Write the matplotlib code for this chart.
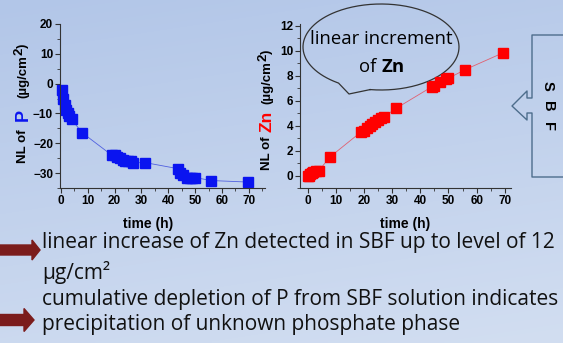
import numpy as np
import matplotlib
matplotlib.use("Agg")
import matplotlib.pyplot as plt
from matplotlib.patches import Polygon
from matplotlib.ticker import MultipleLocator

# ---- data ----
p_time = [0.5, 1.0, 1.5, 2.0, 2.5, 3.0, 4.0, 8.0, 19.0, 20.0, 21.0, 22.0, 23.0, 24.0,
          25.0, 26.0, 27.0, 31.5, 43.5, 44.5, 45.5, 47.0, 48.0, 49.0, 50.0, 56.0, 69.5]
p_nl = [-2.0, -5.0, -7.0, -9.0, -10.0, -11.0, -12.0, -16.5, -24.0, -24.0, -24.5, -25.0,
        -25.5, -26.0, -26.0, -26.0, -26.5, -26.5, -28.5, -30.0, -30.5, -31.5, -31.5,
        -31.5, -31.5, -32.5, -33.0]
zn_time = [0.0, 0.5, 1.0, 1.5, 2.0, 3.0, 4.0, 8.0, 19.0, 20.0, 21.0, 22.0, 23.0, 24.0,
           25.0, 26.0, 27.0, 31.5, 44.0, 45.0, 47.0, 49.0, 50.0, 56.0, 69.5]
zn_nl = [0.0, 0.0, 0.1, 0.2, 0.25, 0.35, 0.4, 1.5, 3.5, 3.6, 3.8, 4.0, 4.1, 4.3, 4.45,
         4.6, 4.7, 5.4, 7.1, 7.2, 7.5, 7.7, 7.8, 8.5, 9.85]
p_yticks = [-30, -20, -10, 0, 10, 20]
zn_yticks = [0, 2, 4, 6, 8, 10, 12]
x_ticks = [0, 10, 20, 30, 40, 50, 60, 70]
bullets = ["linear increase of Zn detected in SBF up to level of 12",
           "\u00b5g/cm\u00b2",
           "cumulative depletion of P from SBF solution indicates",
           "precipitation of unknown phosphate phase"]

W, H = 563, 343
fig = plt.figure(figsize=(W / 100, H / 100), dpi=100)

# background (pixel coordinates)
bg = fig.add_axes([0, 0, 1, 1], zorder=-5)
bg.set_xlim(0, W)
bg.set_ylim(H, 0)
bg.axis("off")
top = np.array([0xb2, 0xc6, 0xe8]) / 255
bot = np.array([0xd2, 0xde, 0xf1]) / 255
yy, xx = np.mgrid[0:1:120j, 0:1:120j]
t = (0.8 * yy + 0.2 * xx)[..., None]
grad = top * (1 - t) + bot * t
bg.imshow(grad, extent=[0, W, H, 0], aspect="auto", interpolation="bilinear")

FONT = "Liberation Sans"


def style_axes(ax, xlabel_x):
    for s in ["top", "right"]:
        ax.spines[s].set_visible(False)
    for s in ["left", "bottom"]:
        ax.spines[s].set_color("#333333")
        ax.spines[s].set_linewidth(0.8)
    ax.set_facecolor("none")
    ax.tick_params(which="major", direction="out", length=3.5, width=0.8,
                   colors="#333333", labelcolor="black", labelsize=8.5, pad=1.5)
    ax.tick_params(which="minor", direction="out", length=2, width=0.6, colors="#333333")
    for lab in ax.get_xticklabels() + ax.get_yticklabels():
        lab.set_fontweight("bold")
        lab.set_fontfamily(FONT)
    ax.set_xlabel("time (h)", fontsize=10, fontweight="bold", family=FONT, labelpad=6)
    ax.xaxis.set_label_coords(xlabel_x, -0.175)


# ---- left plot (P) ----
l0, r0, t0, b0 = 60, 265, 24, 188
ax1 = fig.add_axes([l0 / W, 1 - b0 / H, (r0 - l0) / W, (b0 - t0) / H])
ax1.plot(p_time, p_nl, color="#5060e0", lw=0.6, marker="s", ms=6.5,
         mfc="#0a14f0", mec="#0a14f0", clip_on=False)
ax1.set_xlim(-0.3, 76)
ax1.set_ylim(-35, 20)
ax1.set_xticks(x_ticks)
ax1.set_yticks(p_yticks)
ax1.xaxis.set_minor_locator(MultipleLocator(5))
ax1.yaxis.set_minor_locator(MultipleLocator(5))
style_axes(ax1, (148 - l0) / (r0 - l0))

# ---- right plot (Zn) ----
l1, r1, t1, b1 = 300, 511, 24, 188
ax2 = fig.add_axes([l1 / W, 1 - b1 / H, (r1 - l1) / W, (b1 - t1) / H])
ax2.plot(zn_time, zn_nl, color="#e06070", lw=0.6, marker="s", ms=6.5,
         mfc="#ff0000", mec="#ff0000", clip_on=False)
ax2.set_xlim(-2.7, 72.2)
ax2.set_ylim(-1.0, 12.15)
ax2.set_xticks(x_ticks)
ax2.set_yticks(zn_yticks)
ax2.xaxis.set_minor_locator(MultipleLocator(5))
ax2.yaxis.set_minor_locator(MultipleLocator(1))
style_axes(ax2, 0.5)


# ---- y labels with coloured element (pixel coordinates in bg) ----
def ylabel_pieces(xc, y_nl, y_el, y_unit, elem, color, elsize):
    bg.text(xc, y_nl, "NL of", rotation=90, ha="center", va="center",
            fontsize=9.5, fontweight="bold", family=FONT)
    bg.text(xc, y_el, elem, rotation=90, ha="center", va="center",
            fontsize=elsize, fontweight="bold", family=FONT, color=color)
    u1 = bg.text(xc, y_unit, "(\u00b5g/cm", rotation=90, ha="center", va="bottom",
                 fontsize=9.5, fontweight="bold", family=FONT)
    u2 = bg.annotate("2", xy=(0.5, 1.0), xycoords=u1, xytext=(-2.5, 0),
                     textcoords="offset points", rotation=90, ha="center", va="bottom",
                     fontsize=9.5, fontweight="bold", family=FONT)
    bg.annotate(")", xy=(0.5, 1.0), xycoords=u2, xytext=(2.5, 0),
                textcoords="offset points", rotation=90, ha="center", va="bottom",
                fontsize=9.5, fontweight="bold", family=FONT)


ylabel_pieces(23, 146, 115, 98, "P", "#0a14f0", 13)
ylabel_pieces(267, 153, 121, 104, "Zn", "#ff0000", 12.5)

# ---- speech bubble ----
cx, cy, a, b = 381, 47, 78, 43
th = np.linspace(np.deg2rad(-98), np.deg2rad(-123) + 2 * np.pi, 300)
ex = cx + a * np.cos(th)
ey = cy - b * np.sin(th)
bx = np.concatenate([ex, [349, ex[0]]])
by = np.concatenate([ey, [94, ey[0]]])
bg.plot(bx, by, color="#333333", lw=0.9)
bg.text(381, 39, "linear increment", ha="center", va="center", fontsize=13.3,
        family="Open Sans", color="black")
bg.text(381, 67, "of ", ha="right", va="center", fontsize=13.3, family="Open Sans")
bg.text(381, 67, "Zn", ha="left", va="center", fontsize=13.3, family="Open Sans",
        fontweight="bold")

# ---- SBF callout ----
sx = [566, 532, 532, 527, 527, 512, 527, 527, 532, 532, 566]
sy = [35, 35, 98, 98, 91, 106, 120, 113, 113, 177, 177]
bg.plot(sx, sy, color="#4d6d8c", lw=1.0)
for letter, ly in zip("SBF", [86, 106, 127]):
    bg.text(548, ly, letter, rotation=-90, ha="center", va="center", fontsize=10.5,
            fontweight="bold", family=FONT)

# ---- bullet arrows ----
arrow_col = "#7b1c1c"
for (yc, xb, xtip, half_s, half_h) in [(250, 32, 40, 5, 10), (320, 24, 34, 5.5, 11.5)]:
    poly = Polygon([[-2, yc - half_s], [xb, yc - half_s], [xb, yc - half_h],
                    [xtip, yc], [xb, yc + half_h], [xb, yc + half_s],
                    [-2, yc + half_s]], closed=True, color=arrow_col)
    bg.add_patch(poly)

for txt, yb in zip(bullets, [248, 279, 305, 330]):
    bg.text(42, yb, txt, ha="left", va="baseline", fontsize=15, family="Open Sans",
            color="#111111")

fig.savefig("out.png", dpi=100)
